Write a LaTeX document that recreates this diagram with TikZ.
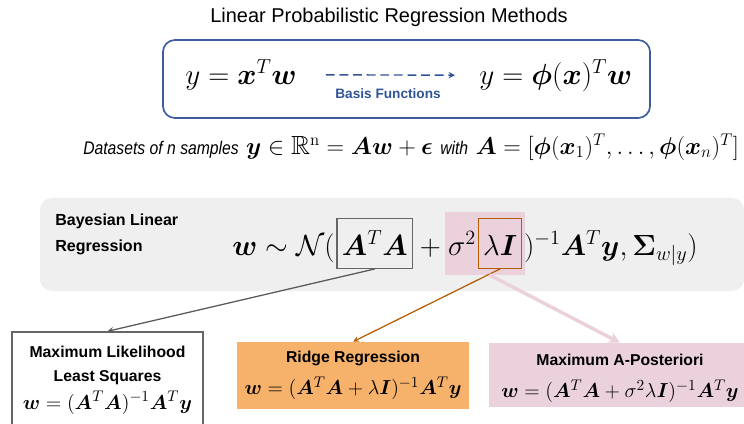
\documentclass[tikz,border=0pt]{standalone}
\usepackage{amsmath,amssymb,bm}
\usepackage[no-math]{fontspec}
\setmainfont{Liberation Sans}
\newfontfamily\narrowsans[FakeStretch=0.86]{Liberation Sans}
\usepackage{tikz}
\usetikzlibrary{shapes,arrows,positioning,fit,backgrounds}

\definecolor{boxblue}{HTML}{3C5C9E}
\definecolor{labelblue}{HTML}{2F5597}
\definecolor{panelgray}{HTML}{EFEFEF}
\definecolor{edgegray}{HTML}{666666}
\definecolor{arrowgray}{HTML}{595959}
\definecolor{mappink}{HTML}{EAD1DC}
\definecolor{ridgeedge}{HTML}{B45F06}
\definecolor{ridgefill}{HTML}{F6B26B}

\newcommand{\bigmath}{\fontsize{21}{25}\selectfont}
\newcommand{\boxmath}{\fontsize{15.8}{19}\selectfont}
\newcommand{\smallit}{\narrowsans\itshape\fontsize{13}{15}\selectfont}

\begin{document}
\begin{tikzpicture}[x=0.025cm, y=-0.025cm,
        title/.style={font=\fontsize{14.2}{17}\selectfont},
        modelbox/.style={rectangle, rounded corners=0.3cm, draw=boxblue, line width=1.2pt, minimum width=12.175cm, minimum height=1.95cm},
        panel/.style={rectangle, rounded corners=0.3cm, fill=panelgray, minimum width=17.6cm, minimum height=2.325cm},
        eqpart/.style={inner sep=0pt, font=\bigmath},
        framed/.style={inner xsep=3.5pt, inner ysep=4pt, text height=22pt, text depth=5.5pt},
        result/.style={rectangle, align=center, font=\fontsize{11.2}{17}\selectfont\bfseries},
        arrow/.style={->, >=stealth}]

    \useasboundingbox (0,0) rectangle (744,423);

    \node[title] (title) at (389,17) {Linear Probabilistic Regression Methods};

    % feature map box
    \node[modelbox] (model) at (406.5,79) {};
    \node[eqpart, anchor=base west] (linear) at (185,84) {$y=\bm{x}^T\bm{w}$};
    \node[eqpart, anchor=base west] (basis) at (479,84) {$y=\bm{\phi}(\bm{x})^T\bm{w}$};
    \draw[arrow, labelblue, line width=1pt, dash pattern=on 0.22cm off 0.12cm, shorten <=0.72cm, shorten >=0.6cm]
        (linear) -- node[below=6pt, font=\fontsize{9.7}{12}\selectfont\bfseries] {Basis Functions} (basis);

    \node[anchor=base west, inner sep=0pt, font=\fontsize{18.7}{22}\selectfont] (data) at (83,154)
        {{\smallit Datasets of n samples} $\bm{y}\in\mathbb{R}^{\mathrm{n}}=\bm{A}\bm{w}+\bm{\epsilon}$ {\smallit with} $\bm{A}=[\bm{\phi}(\bm{x}_1)^T,\ldots,\bm{\phi}(\bm{x}_n)^T]$};

    % bayesian row
    \node[anchor=north west, align=left, inner sep=0pt, font=\fontsize{11.4}{18}\selectfont\bfseries] (blr) at (55,214) {Bayesian Linear\\Regression};
    \node[eqpart, anchor=base west] (prior) at (232,255) {$\bm{w}\sim\mathcal{N}($};
    \node[eqpart, framed, draw=edgegray, line width=0.8pt, base right=1pt of prior] (gram) {$\bm{A}^T\bm{A}$};
    \node[eqpart, base right=0pt of gram] (plus) {${}+{}$};
    \node[eqpart, base right=0pt of plus] (noise) {$\sigma^2$};
    \node[eqpart, framed, draw=ridgeedge, line width=0.8pt, base right=1pt of noise] (ridge) {$\lambda\bm{I}$};
    \node[eqpart, base right=1pt of ridge] (rest) {$)^{-1}\bm{A}^T\bm{y},\bm{\Sigma}_{w|y})$};

    \begin{scope}[on background layer]
        \node[panel] (bayes) at (392,244.5) {};
        \node[fit=(noise)(ridge), fill=mappink, inner xsep=2pt, inner ysep=4pt] (shade) {};
    \end{scope}

    % estimators
    \node[draw=edgegray, line width=1pt, fill=white, minimum width=4.775cm, minimum height=2.5cm] (lsq) at (107.5,382) {};
    \node[result] (lsqtext) at (107.5,380) {Maximum Likelihood\\Least Squares\\[3pt] {\boxmath$\bm{w}=(\bm{A}^T\bm{A})^{-1}\bm{A}^T\bm{y}$}};
    \node[result, fill=ridgefill, minimum width=5.8cm, minimum height=1.675cm] (rr) at (353,375.5) {Ridge Regression\\[6pt] {\boxmath$\bm{w}=(\bm{A}^T\bm{A}+\lambda\bm{I})^{-1}\bm{A}^T\bm{y}$}};
    \node[fill=mappink, minimum width=6.55cm, minimum height=1.6cm] (map) at (620,375) {};
    \node[result] (maptext) at (620,378) {Maximum A-Posteriori\\[6pt] {\boxmath$\bm{w}=(\bm{A}^T\bm{A}+\sigma^2\lambda\bm{I})^{-1}\bm{A}^T\bm{y}$}};

    \draw[arrow, arrowgray, line width=0.9pt] (gram.south) -- (lsq.north);
    \draw[arrow, ridgeedge, line width=0.9pt] (ridge.south) -- (rr.north);
    \draw[arrow, mappink, line width=2.5pt] ([xshift=3pt]shade.south) -- (map.north);
\end{tikzpicture}
\end{document}
